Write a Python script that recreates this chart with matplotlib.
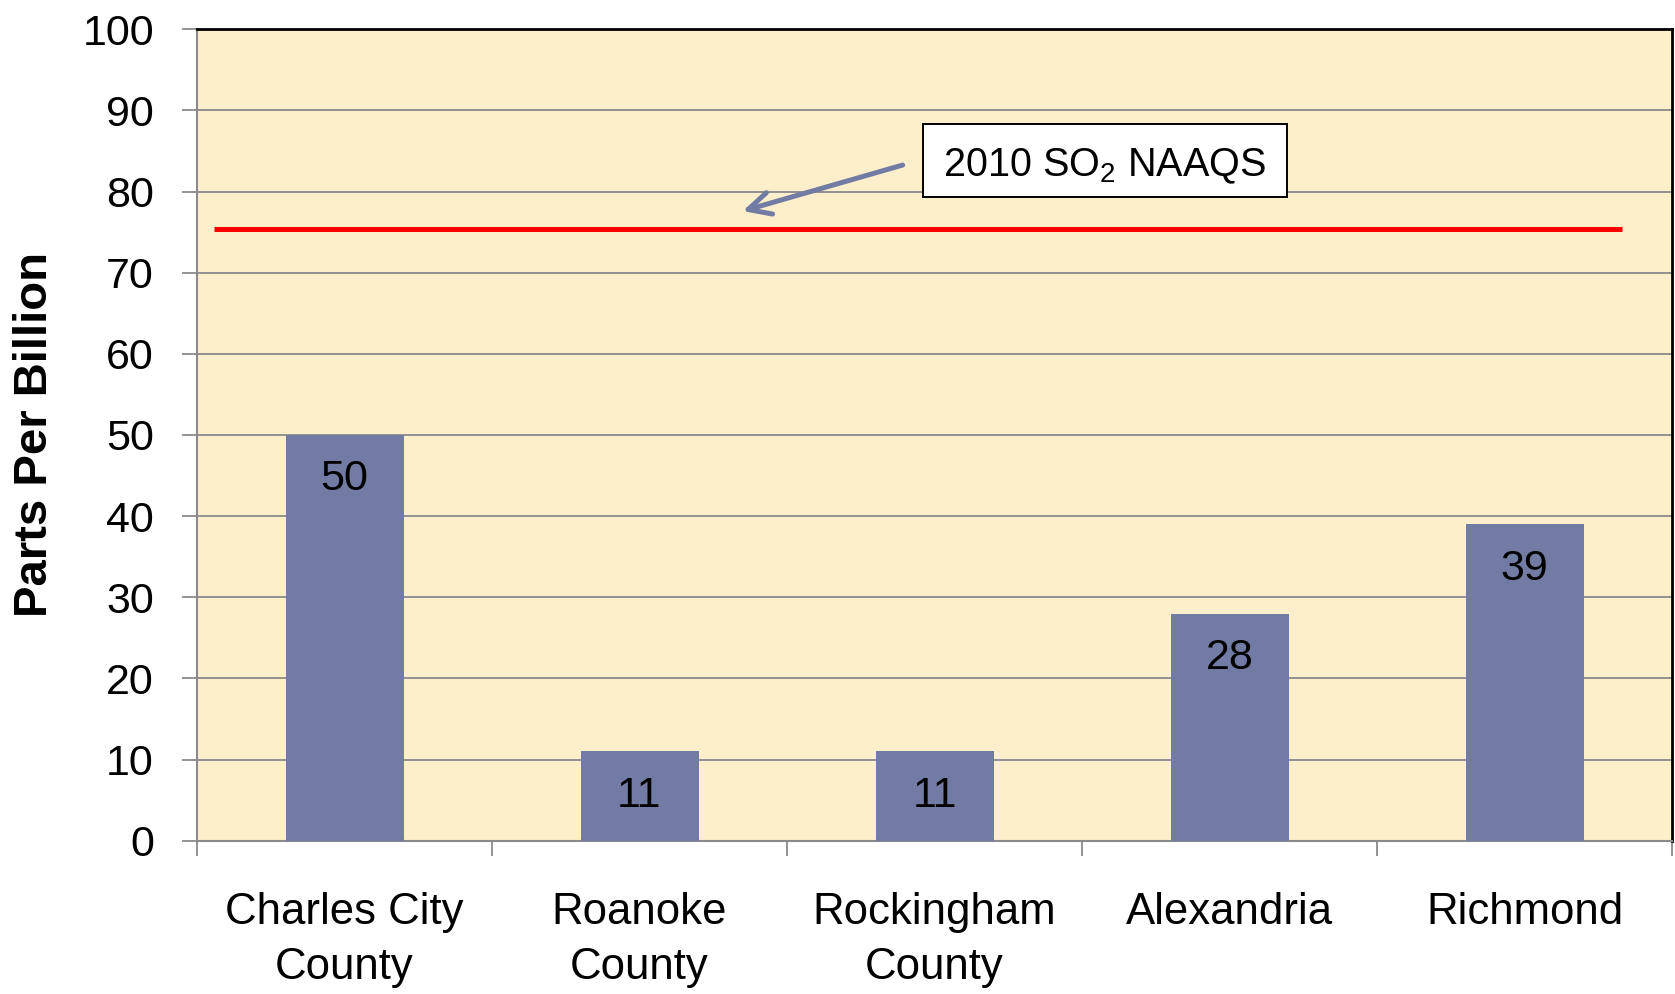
import matplotlib
matplotlib.use("Agg")
import matplotlib.pyplot as plt
from matplotlib.patches import Rectangle, FancyArrowPatch

categories = ["Charles City\nCounty", "Roanoke\nCounty", "Rockingham\nCounty", "Alexandria", "Richmond"]
values = [50, 11, 11, 28, 39]
naaqs_value = 75.4
naaqs_label = r"2010 SO$_{\mathregular{2}}$ NAAQS"
y_ticks = [0, 10, 20, 30, 40, 50, 60, 70, 80, 90, 100]
y_label = "Parts Per Billion"

FONT = ["Liberation Sans Narrow", "Liberation Sans", "DejaVu Sans"]
plt.rcParams["font.family"] = FONT
plt.rcParams["mathtext.fontset"] = "custom"
plt.rcParams["mathtext.rm"] = "Liberation Sans"
plt.rcParams["mathtext.it"] = "Liberation Sans"

BAR = "#717BA3"
BG = "#FEEFCC"
GRID = "#8A8A8A"

fig = plt.figure(figsize=(16.75, 9.94), dpi=100)
ax = fig.add_axes([197 / 1675, 1 - 840.7 / 994, 1475 / 1675, (840.7 - 29.3) / 994])
ax.set_facecolor(BG)

x = list(range(len(categories)))
ax.bar(x, values, width=0.4, color=BAR, zorder=3)
ax.set_xlim(-0.5, len(categories) - 0.5)
ax.set_ylim(0, 100)
ax.set_yticks(y_ticks)
ax.set_yticklabels([str(t) for t in y_ticks])

# Category boundary ticks
ax.set_xticks([i - 0.5 for i in range(len(categories) + 1)])
ax.set_xticklabels([])
ax.set_xticks(x, minor=True)
ax.set_xticklabels(categories, minor=True, fontsize=31.5, linespacing=1.42)
ax.tick_params(axis="x", which="minor", length=0, pad=37)
ax.tick_params(axis="x", which="major", length=11, width=1.3, color=GRID, direction="out")
ax.tick_params(axis="y", length=11, width=1.3, color=GRID, direction="out", pad=20, labelsize=31)

for yv in y_ticks[1:-1]:
    ax.axhline(yv, color=GRID, lw=1.3, zorder=1)

for s in ["left", "bottom"]:
    ax.spines[s].set_color(GRID)
    ax.spines[s].set_linewidth(1.5)
for s in ["top", "right"]:
    ax.spines[s].set_color("black")
    ax.spines[s].set_linewidth(2)

for xi, v in zip(x, values):
    ax.annotate(str(v), (xi, v), xytext=(0, -32), textcoords="offset points",
                ha="center", va="center", fontsize=31, color="black", zorder=4)

# NAAQS line
ax.hlines(naaqs_value, -0.443, 4.33, color="#FF0000", lw=3.6, zorder=4)

# Label box and arrow
ax.add_patch(Rectangle((1.96, 79.33), 1.235, 8.96, facecolor="white",
                       edgecolor="black", lw=1.4, zorder=5))
ax.text(2.029, 81.92, naaqs_label, fontsize=28.5, ha="left", va="baseline", zorder=6)
arrow = FancyArrowPatch((1.892, 83.27), (1.35, 77.6),
                        arrowstyle="->,head_length=16,head_width=8",
                        mutation_scale=1, color=BAR, lw=3.6,
                        shrinkA=0, shrinkB=0, zorder=5)
ax.add_patch(arrow)

fig.text(35 / 1675, 1 - 434.7 / 994, y_label, rotation=90, ha="center", va="center",
         fontsize=34, fontweight="bold", family=["Liberation Sans", "DejaVu Sans"])

fig.savefig("out.png", dpi=100, facecolor="white")
